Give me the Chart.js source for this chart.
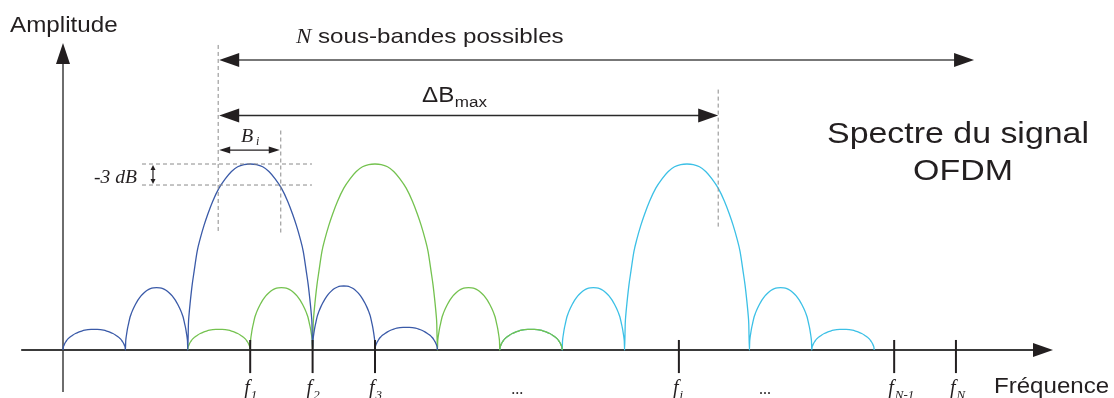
<!DOCTYPE html>
<html><head><meta charset="utf-8">
<script src="https://cdn.jsdelivr.net/npm/chart.js@4"></script>
<style>html,body{margin:0;padding:0;background:#fff}#wrap{width:1114px;height:398px;position:relative}</style>
</head><body><div id="wrap"><canvas id="c"></canvas></div>
<script>
// Lobes of each sub-carrier: [start frequency, end frequency, relative amplitude]
const blueLobes  = [[0,1,11.1],[1,2,33.5],[2,4,100],[4,5,34.4],[5,6,12.2]];
const greenLobes = [[2,3,11.1],[3,4,33.5],[4,6,100],[6,7,33.5],[7,8,11.1]];
const cyanLobes  = [[7,8,11.1],[8,9,33.5],[9,11,100],[11,12,33.5],[12,13,11.1]];
const shapeT = [0,0.005,0.01,0.02,0.035,0.05,0.075,0.1,0.13,0.16,0.2,0.25,0.3,0.35,0.4,0.45,0.5];
const shapeH = [0,0.14,0.19,0.26,0.35,0.42,0.53,0.60,0.67,0.73,0.80,0.87,0.92,0.96,0.985,0.997,1];
// Frequency tick marks and their labels
const tickFreqs = [3,4,5,9.87,13.32,14.31];
const tickNames = [['f','1'],['f','2'],['f','3'],['f','i'],['f','N-1'],['f','N']];
const ellipsisFreqs = [7.28,11.25];

function lobePoints(lobes){
  const pts=[];
  lobes.forEach((l,li)=>{
    const a=l[0], b=l[1], h=l[2];
    const full = shapeT.map((t,i)=>[t,shapeH[i]]);
    for(let i=shapeT.length-2;i>=0;i--) full.push([1-shapeT[i],shapeH[i]]);
    full.forEach((p,j)=>{ if(j===0 && li>0) return; pts.push({x:a+p[0]*(b-a), y:h*p[1]}); });
  });
  return pts;
}

const BLUE='#3a5aa8', GREEN='#74c24f', CYAN='#3cc0e6', TEAL='#33b8c0';

function stext(ctx,str,x,y,font,align,sx,color){
  ctx.save(); ctx.font=font; ctx.fillStyle=color||'#231f20'; ctx.textAlign=align||'left'; ctx.textBaseline='alphabetic';
  ctx.translate(x,y); ctx.scale(sx||1,1); ctx.fillText(str,0,0); ctx.restore();
}
function twidth(ctx,str,font,sx){ ctx.save(); ctx.font=font; const w=ctx.measureText(str).width*(sx||1); ctx.restore(); return w; }
function head(ctx,tx,ty,dir,len,half,color){
  ctx.save(); ctx.fillStyle=color; ctx.beginPath(); ctx.moveTo(tx,ty);
  if(dir==='l'){ctx.lineTo(tx+len,ty-half);ctx.lineTo(tx+len,ty+half);}
  if(dir==='r'){ctx.lineTo(tx-len,ty-half);ctx.lineTo(tx-len,ty+half);}
  if(dir==='u'){ctx.lineTo(tx-half,ty+len);ctx.lineTo(tx+half,ty+len);}
  if(dir==='d'){ctx.lineTo(tx-half,ty-len);ctx.lineTo(tx+half,ty-len);}
  ctx.closePath(); ctx.fill(); ctx.restore();
}
function line(ctx,x1,y1,x2,y2,color,w,dash){
  ctx.save(); ctx.strokeStyle=color; ctx.lineWidth=w; ctx.setLineDash(dash||[]);
  ctx.beginPath(); ctx.moveTo(x1,y1); ctx.lineTo(x2,y2); ctx.stroke(); ctx.restore();
}

const axesPlugin = {
  id:'axesPlugin',
  beforeDatasetsDraw(chart){
    const ctx=chart.ctx, xs=chart.scales.x, ys=chart.scales.y;
    const X=k=>xs.getPixelForValue(k), Y=v=>ys.getPixelForValue(v);
    line(ctx,X(0),Y(-22.6),X(0),Y(155),'#6d6d6d',2);
    head(ctx,X(0),Y(165),'u',21,7,'#231f20');
    line(ctx,X(-0.67),Y(0),X(15.6),Y(0),'#3a3a3a',2);
    head(ctx,X(15.865),Y(0),'r',20,7,'#231f20');
  },
  afterDatasetsDraw(chart){
    const ctx=chart.ctx, xs=chart.scales.x, ys=chart.scales.y;
    const X=k=>xs.getPixelForValue(k), Y=v=>ys.getPixelForValue(v);
    const DASH=[4,3], DC='#8a8a8a';
    line(ctx,X(2.487),Y(164),X(2.487),Y(63),DC,1,DASH);
    line(ctx,X(3.49),Y(118),X(3.49),Y(63),DC,1,DASH);
    line(ctx,X(10.5),Y(140),X(10.5),Y(65.5),DC,1,DASH);
    line(ctx,X(1.266),Y(100),X(3.99),Y(100),DC,1,DASH);
    line(ctx,X(1.266),Y(88.7),X(3.99),Y(88.7),DC,1,DASH);
    line(ctx,X(2.487)+18,Y(155.9),X(14.6)-18,Y(155.9),'#777',2);
    head(ctx,X(2.487)+1,Y(155.9),'l',20,7,'#231f20');
    head(ctx,X(14.6),Y(155.9),'r',20,7,'#231f20');
    line(ctx,X(2.487)+18,Y(126.1),X(10.5)-18,Y(126.1),'#2a2a2a',1.6);
    head(ctx,X(2.487)+1,Y(126.1),'l',20,7,'#231f20');
    head(ctx,X(10.5),Y(126.1),'r',20,7,'#231f20');
    line(ctx,X(2.487)+8,Y(107.5),X(3.49)-8,Y(107.5),'#231f20',1.3);
    head(ctx,X(2.487)+1,Y(107.5),'l',11,3.5,'#231f20');
    head(ctx,X(3.49)-1,Y(107.5),'r',11,3.5,'#231f20');
    line(ctx,X(1.442),Y(100)+4,X(1.442),Y(88.7)-4,'#231f20',1.2);
    head(ctx,X(1.442),Y(100)+1,'u',5,2.5,'#231f20');
    head(ctx,X(1.442),Y(88.7)-1,'d',5,2.5,'#231f20');
    const SERIF='"Liberation Serif", serif';
    tickFreqs.forEach((f,i)=>{
      const px=X(f);
      line(ctx,px,Y(5.4),px,Y(-12.4),'#231f20',2);
      const n=tickNames[i];
      stext(ctx,n[0],px-6,394,'italic 20px '+SERIF,'left',1);
      const w=twidth(ctx,n[0],'italic 20px '+SERIF,1);
      stext(ctx,n[1],px-6+w+1,399,'italic 13px '+SERIF,'left',1);
    });
    ellipsisFreqs.forEach(f=>stext(ctx,'...',X(f),394,'16px '+SERIF,'center',1));
    const SANS='"Liberation Sans", Arial, sans-serif';
    stext(ctx,'Amplitude',10,32,'22px '+SANS,'left',1.1);
    stext(ctx,'Fréquence',994,393,'22.5px '+SANS,'left',1.07);
    stext(ctx,'N',296,43,'italic 22px '+SERIF,'left',1.05);
    stext(ctx,'sous-bandes possibles',318,43,'21px '+SANS,'left',1.15);
    const dF='22px '+SANS;
    stext(ctx,'ΔB',422,102,dF,'left',1.1);
    const dw=twidth(ctx,'ΔB',dF,1.1);
    stext(ctx,'max',422+dw+0.5,107,'15.5px '+SANS,'left',1.1);
    stext(ctx,'Spectre du signal',958,143,'30px '+SANS,'center',1.13);
    stext(ctx,'OFDM',963,180,'30px '+SANS,'center',1.13);
    stext(ctx,'-3 dB',137,183,'italic 19px '+SERIF,'right',1.03);
    stext(ctx,'B',241,142,'italic 19px '+SERIF,'left',1.05);
    stext(ctx,'i',256,145,'italic 12px '+SERIF,'left',1);
  }
};

const mk=(lobes,color,extra)=>Object.assign({data:lobePoints(lobes),showLine:true,pointRadius:0,borderColor:color,borderWidth:1.3,cubicInterpolationMode:'monotone',fill:false},extra||{});

new Chart(document.getElementById('c'),{
  type:'scatter',
  data:{datasets:[
    mk(blueLobes,BLUE),
    mk(greenLobes,GREEN),
    mk(cyanLobes,CYAN,{segment:{borderColor:c=>c.p1.parsed.x<=8.001?TEAL:undefined}})
  ]},
  options:{
    responsive:true,maintainAspectRatio:false,animation:false,events:[],
    layout:{padding:0},
    plugins:{legend:{display:false},tooltip:{enabled:false},title:{display:false}},
    scales:{
      x:{type:'linear',display:false,min:-1.0096,max:16.843},
      y:{type:'linear',display:false,min:-25.8,max:188.17}
    }
  },
  plugins:[axesPlugin]
});
</script></body></html>
